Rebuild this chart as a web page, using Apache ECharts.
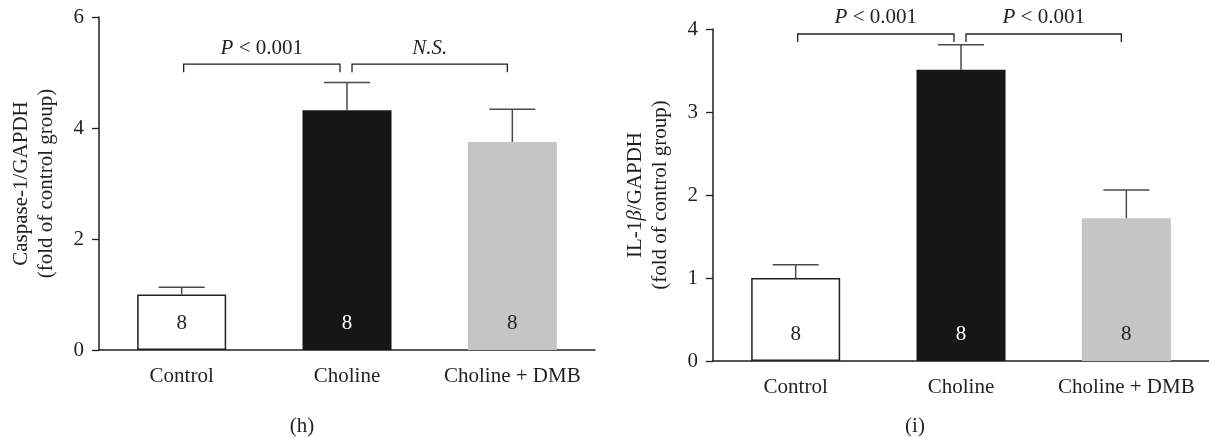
<!DOCTYPE html>
<html>
<head>
<meta charset="utf-8">
<script src="https://cdn.jsdelivr.net/npm/echarts@6/dist/echarts.min.js"></script>
<style>
  html, body { margin: 0; padding: 0; background: #fff; }
  #chart { width: 1209px; height: 438px; }
</style>
</head>
<body>
<div id="chart"></div>
<script>
const groups = ["Control", "Choline", "Choline + DMB"];
const nPerGroup = [8, 8, 8];

// panel (h): caspase-1
const caspaseMean = [1.0, 4.32, 3.75];
const caspaseErr = [0.13, 0.5, 0.59];
const caspaseSig = [[0, 1, 5.15], [1, 2, 5.15]];
const caspaseSigText = ["{i|P} < 0.001", "{i|N.S.}"];

// panel (i): IL-1beta
const il1bMean = [1.0, 3.51, 1.72];
const il1bErr = [0.16, 0.3, 0.34];
const il1bSig = [[0, 1, 3.94], [1, 2, 3.94]];
const il1bSigText = ["{i|P} < 0.001", "{i|P} < 0.001"];

const FONT = "Liberation Serif";
const FS = 21;
const INK = "#231f20";
const ERR = "#4a4a4a";
const barStyles = [
  { color: "#ffffff", borderColor: INK, borderWidth: 1.5 },
  { color: "#161616" },
  { color: "#c4c5c5" },
];
const labelColors = [INK, "#ffffff", INK];
const legInset = [[2, -7], [5, -5]];

const errorItem = (params, api) => {
  const x = api.value(0);
  const m = api.value(1);
  const e = api.value(2);
  const base = api.coord([x, m]);
  const top = api.coord([x, m + e]);
  const half = 23;
  const style = { stroke: ERR, lineWidth: 1.5 };
  return {
    type: "group",
    children: [
      { type: "line", shape: { x1: base[0], y1: base[1], x2: top[0], y2: top[1] }, style },
      { type: "line", shape: { x1: top[0] - half, y1: top[1], x2: top[0] + half, y2: top[1] }, style },
    ],
  };
};

const bracketItem = (texts) => (params, api) => {
  const y = api.value(2);
  const a = api.coord([api.value(0), y]);
  const b = api.coord([api.value(1), y]);
  const inset = legInset[params.dataIndex];
  const x1 = a[0] + inset[0];
  const x2 = b[0] + inset[1];
  const yy = a[1];
  return {
    type: "group",
    children: [
      {
        type: "polyline",
        shape: { points: [[x1, yy + 8], [x1, yy], [x2, yy], [x2, yy + 8]] },
        style: { stroke: INK, lineWidth: 1.3, fill: null },
      },
      {
        type: "text",
        x: (x1 + x2) / 2,
        y: yy - 16,
        style: {
          text: texts[params.dataIndex],
          fontFamily: FONT,
          fontSize: FS,
          fill: INK,
          align: "center",
          verticalAlign: "middle",
          rich: {
            i: { fontStyle: "italic", fontFamily: FONT, fontSize: FS, fill: INK },
          },
        },
      },
    ],
  };
};

const makeBars = (means, idx) => ({
  type: "bar",
  xAxisIndex: idx,
  yAxisIndex: idx,
  barWidth: 89,
  data: means.map((v, i) => ({
    value: v,
    itemStyle: barStyles[i],
    label: {
      show: true,
      position: "insideBottom",
      distance: 16,
      formatter: String(nPerGroup[i]),
      color: labelColors[i],
      fontFamily: FONT,
      fontSize: FS,
    },
  })),
});

const makeErrors = (means, errs, idx) => ({
  type: "custom",
  xAxisIndex: idx,
  yAxisIndex: idx,
  renderItem: errorItem,
  encode: { x: 0, y: 1 },
  data: means.map((m, i) => [i, m, errs[i]]),
  z: 3,
});

const makeBrackets = (sig, texts, idx) => ({
  type: "custom",
  xAxisIndex: idx,
  yAxisIndex: idx,
  renderItem: bracketItem(texts),
  encode: { x: 0, y: 2 },
  data: sig,
  clip: false,
  z: 4,
});

const axisLine = { lineStyle: { color: INK, width: 1.5 } };

const xAxisFor = (idx) => ({
  type: "category",
  gridIndex: idx,
  data: groups,
  axisLine,
  axisTick: { alignWithLabel: true, length: 8, lineStyle: { color: INK, width: 1.3 } },
  axisLabel: { interval: 0, color: INK, fontFamily: FONT, fontSize: FS, margin: 16 },
});

const yAxisFor = (idx, max, interval, name, nameRich) => ({
  type: "value",
  gridIndex: idx,
  min: 0,
  max,
  interval,
  name,
  nameLocation: "middle",
  nameGap: 40,
  nameTextStyle: {
    color: INK,
    fontFamily: FONT,
    fontSize: FS,
    lineHeight: 25,
    rich: nameRich,
  },
  axisLine: { show: true, lineStyle: { color: INK, width: 1.5 } },
  axisTick: { show: true, length: 7, lineStyle: { color: INK, width: 1.3 } },
  axisLabel: { color: INK, fontFamily: FONT, fontSize: FS, margin: 15 },
  splitLine: { show: false },
});

const nameRich = {
  a: { fontFamily: FONT, fontSize: FS, lineHeight: 25, color: INK },
  b: { fontFamily: FONT, fontSize: FS, lineHeight: 25, color: INK, fontStyle: "italic" },
};

const chart = echarts.init(document.getElementById("chart"));
chart.setOption({
  animation: false,
  backgroundColor: "#ffffff",
  grid: [
    { left: 99, top: 17, width: 496, height: 333 },
    { left: 713, top: 29, width: 496, height: 332 },
  ],
  xAxis: [xAxisFor(0), xAxisFor(1)],
  yAxis: [
    yAxisFor(0, 6, 2, "Caspase-1/GAPDH\n(fold of control group)"),
    yAxisFor(1, 4, 1, "{a|IL-1}{b|β}{a|/GAPDH}\n{a|(fold of control group)}", nameRich),
  ],
  graphic: [
    { type: "text", x: 302, y: 426, style: { text: "(h)", fontFamily: FONT, fontSize: FS, fill: INK, align: "center", verticalAlign: "middle" } },
    { type: "text", x: 915, y: 426, style: { text: "(i)", fontFamily: FONT, fontSize: FS, fill: INK, align: "center", verticalAlign: "middle" } },
  ],
  series: [
    makeBars(caspaseMean, 0),
    makeErrors(caspaseMean, caspaseErr, 0),
    makeBrackets(caspaseSig, caspaseSigText, 0),
    makeBars(il1bMean, 1),
    makeErrors(il1bMean, il1bErr, 1),
    makeBrackets(il1bSig, il1bSigText, 1),
  ],
});

window.addEventListener("resize", () => chart.resize());
</script>
</body>
</html>
